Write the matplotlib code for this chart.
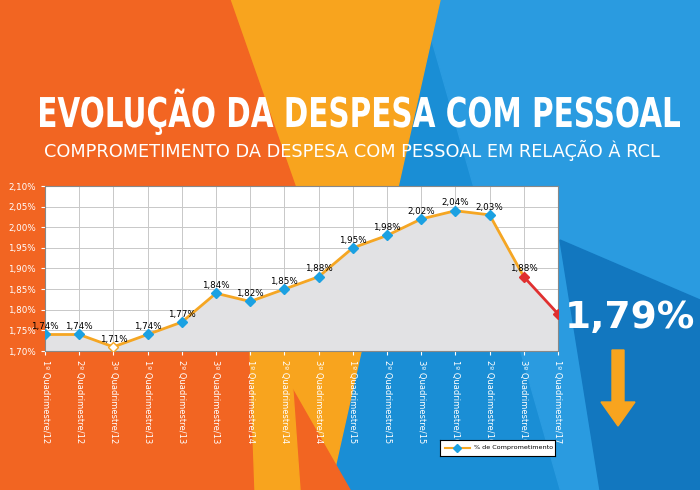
import matplotlib
matplotlib.use("Agg")
import matplotlib.pyplot as plt
from matplotlib.patches import Polygon, FancyArrow, PathPatch
from matplotlib.textpath import TextPath
from matplotlib.font_manager import FontProperties
from matplotlib.transforms import Affine2D

labels = ["1º Quadrimestre/12","2º Quadrimestre/12","3º Quadrimestre/12",
          "1º Quadrimestre/13","2º Quadrimestre/13","3º Quadrimestre/13",
          "1º Quadrimestre/14","2º Quadrimestre/14","3º Quadrimestre/14",
          "1º Quadrimestre/15","2º Quadrimestre/15","3º Quadrimestre/15",
          "1º Quadrimestre/16","2º Quadrimestre/16","3º Quadrimestre/16",
          "1º Quadrimestre/17"]
values = [1.74,1.74,1.71,1.74,1.77,1.84,1.82,1.85,1.88,1.95,1.98,2.02,2.04,2.03,1.88,1.79]
yticks = [1.70,1.75,1.80,1.85,1.90,1.95,2.00,2.05,2.10]

W, H = 700, 490
fig = plt.figure(figsize=(7, 4.9), dpi=100)
bg = fig.add_axes([0, 0, 1, 1])
bg.set_xlim(0, W); bg.set_ylim(H, 0); bg.axis("off")
ORANGE = "#F26522"; BLUE = "#1A8ED5"; YEL = "#F8A41E"; DBLUE = "#1277BF"
bg.add_patch(Polygon([(0,0),(W,0),(W,H),(0,H)], color=BLUE))
bg.add_patch(Polygon([(420,0),(W,0),(W,H),(560,H)], color="#2A9BE0"))
bg.add_patch(Polygon([(560,240),(W,300),(W,H),(600,H)], color=DBLUE))
bg.add_patch(Polygon([(230,0),(440,0),(330,H),(260,H)], color=YEL))
bg.add_patch(Polygon([(0,0),(230,0),(300,200),(270,350),(350,H),(0,H)], color=ORANGE))
bg.add_patch(Polygon([(250,350),(290,350),(300,H),(255,H)], color=YEL))

# condensed bold title via scaled text path
fp = FontProperties(family="DejaVu Sans", weight="bold")
tp = TextPath((0, 0), "EVOLUÇÃO DA DESPESA COM PESSOAL", size=1, prop=fp)
ext = tp.get_extents()
tw, th = 640, 30
tr = Affine2D().translate(-ext.x0, 0).scale(tw / ext.width, -th / 0.73).translate(40, 127)
bg.add_patch(PathPatch(tr.transform_path(tp), color="white", lw=0))

bg.text(352, 150, "COMPROMETIMENTO DA DESPESA COM PESSOAL EM RELAÇÃO À RCL", color="white",
        fontsize=12.8, ha="center", va="center")
bg.text(630, 318, "1,79%", color="white", fontsize=27, fontweight="bold", ha="center", va="center")
bg.add_patch(FancyArrow(618, 350, 0, 52, width=12, head_width=34, head_length=24,
                        length_includes_head=False, color=YEL))

ax = fig.add_axes([45/W, 1-351/H, (558-45)/W, (351-186)/H])
x = list(range(len(values)))
ax.set_facecolor("white")
ax.fill_between(x, values, 1.70, color="#E2E2E4", zorder=1)
ax.plot(x[:-1], values[:-1], color="#F5A623", lw=2, zorder=3)
ax.plot(x[-2:], values[-2:], color="#E03030", lw=2, zorder=3)
cols = ["#1BA1E2"]*len(values)
cols[2] = "white"; cols[14] = "#E03030"; cols[15] = "#E03030"
for xi, v, c in zip(x, values, cols):
    ax.plot(xi, v, marker="D", ms=5, color=c, mec=c if c != "white" else "#F5A623", zorder=4)
for xi, v in zip(x[:-1], values[:-1]):
    ax.text(xi, v + 0.008, f"{v:.2f}%".replace(".", ","), fontsize=6.3, ha="center", va="bottom", zorder=5)
ax.set_xlim(0, len(values)-1)
ax.set_ylim(1.70, 2.10)
ax.set_yticks(yticks)
ax.set_yticklabels([f"{t:.2f}%".replace(".", ",") for t in yticks], color="white", fontsize=6.3)
ax.set_xticks(x)
ax.set_xticklabels(labels, rotation=-90, color="white", fontsize=6, va="top", ha="center")
ax.grid(True, color="#C8C8C8", lw=0.7)
ax.set_axisbelow(True)
for s in ax.spines.values():
    s.set_color("#888888")
ax.tick_params(length=3, colors="white", labelcolor="white")

lg = fig.add_axes([440/W, 1-456/H, 115/W, 16/H])
lg.set_xlim(0, 115); lg.set_ylim(0, 16)
lg.set_xticks([]); lg.set_yticks([])
lg.set_facecolor("white")
lg.plot([5, 30], [8, 8], color="#F5A623", lw=1.5)
lg.plot(17, 8, marker="D", ms=4, color="#1BA1E2")
lg.text(34, 8, "% de Comprometimento", fontsize=4.6, va="center")

fig.savefig("out.png", dpi=100)
